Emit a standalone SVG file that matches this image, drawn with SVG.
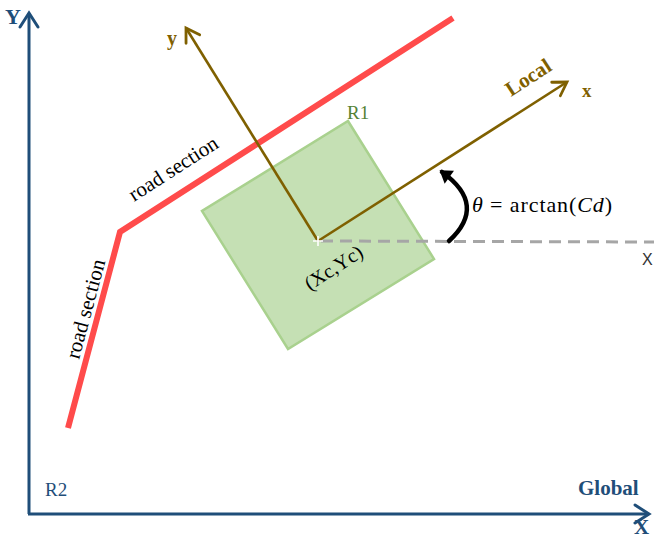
<svg xmlns="http://www.w3.org/2000/svg" width="654" height="540" viewBox="0 0 654 540">
<style>
  .blue { fill: #1f4e79; font-family: "Liberation Serif", serif; }
  .brown { fill: #7f6000; font-family: "Liberation Serif", serif; font-weight: bold; }
  .lbl { fill: #000; font-family: "Liberation Serif", serif; }
  .axisG { stroke: #1f4e79; stroke-width: 3; fill: none; }
  .axisL { stroke: #7f6000; stroke-width: 2.6; fill: none; }
  .road { stroke: #ff4b4b; stroke-width: 6; fill: none; stroke-linejoin: miter; }
</style>
<defs>
  <marker id="arrBlue" markerUnits="userSpaceOnUse" markerWidth="24" markerHeight="24" viewBox="-16 -12 20 24" refX="0" refY="0" orient="auto">
    <path d="M-14,-9 L0,0 L-14,9" fill="none" stroke="#1f4e79" stroke-width="3" stroke-linecap="round" stroke-linejoin="miter"/>
  </marker>
  <marker id="arrBrown" markerUnits="userSpaceOnUse" markerWidth="24" markerHeight="24" viewBox="-16 -12 20 24" refX="0" refY="0" orient="auto">
    <path d="M-13,-8 L0,0 L-13,8" fill="none" stroke="#7f6000" stroke-width="2.8" stroke-linecap="round"/>
  </marker>
  <marker id="arrBlack" markerUnits="userSpaceOnUse" markerWidth="22" markerHeight="22" viewBox="-13 -11 16 22" refX="0" refY="0" orient="auto">
    <path d="M-9,-8 L3,0 L-9,8 Z" fill="#000"/>
  </marker>
</defs>

<g id="region-R1">
  <polygon points="348,121 434,259 288,349 202,211" fill="#c5e0b4" stroke="#a9d18e" stroke-width="2.5"/>
  <text x="347" y="119" font-family="Liberation Serif, serif" font-size="19" fill="#548235">R1</text>
</g>

<g id="road">
  <polyline class="road" points="68,428 120,232 453,18"/>
  <text class="lbl" font-size="21" transform="translate(134,202) rotate(-32.7)">road section</text>
  <text class="lbl" font-size="21" transform="translate(79,360) rotate(-75)">road section</text>
</g>

<g id="connectors">
  <line class="axisG" x1="29" y1="514" x2="29" y2="13" marker-end="url(#arrBlue)"/>
  <line class="axisG" x1="28" y1="514" x2="649" y2="514" marker-end="url(#arrBlue)"/>
  <line x1="321" y1="241" x2="654" y2="242" stroke="#a6a6a6" stroke-width="3" stroke-dasharray="12 7"/>
  <line class="axisL" x1="318" y1="241" x2="567" y2="82" marker-end="url(#arrBrown)"/>
  <line class="axisL" x1="318" y1="241" x2="186" y2="28" marker-end="url(#arrBrown)"/>
  <path d="M449,241 Q488,205 442,172" fill="none" stroke="#000" stroke-width="4.5" stroke-linecap="round" marker-end="url(#arrBlack)"/>
</g>

<g id="global-labels">
  <text class="blue" x="5" y="24" font-size="22" font-weight="bold">Y</text>
  <text class="blue" x="634" y="534" font-size="21" font-weight="bold">X</text>
  <text class="blue" x="578" y="495" font-size="21" font-weight="bold">Global</text>
  <text class="blue" x="45" y="496" font-size="19">R2</text>
  <text x="642" y="265" font-family="Liberation Sans, sans-serif" font-size="16" fill="#333">X</text>
</g>

<g id="local-labels">
  <text class="brown" x="167" y="45" font-size="20">y</text>
  <text class="brown" x="582" y="97" font-size="19">x</text>
  <text class="brown" font-size="21" transform="translate(511,97) rotate(-33)">Local</text>
</g>

<g id="origin">
  <path d="M313,241 H323 M318,236 V246" stroke="#fff" stroke-width="1.6"/>
  <text class="lbl" font-size="20" transform="translate(310,291) rotate(-33)">(Xc,Yc)</text>
</g>

<g id="angle-label">
  <text class="lbl" x="472" y="212" font-size="22" textLength="140" lengthAdjust="spacing"><tspan font-style="italic">θ</tspan> = arctan(<tspan font-style="italic">Cd</tspan>)</text>
</g>
</svg>
